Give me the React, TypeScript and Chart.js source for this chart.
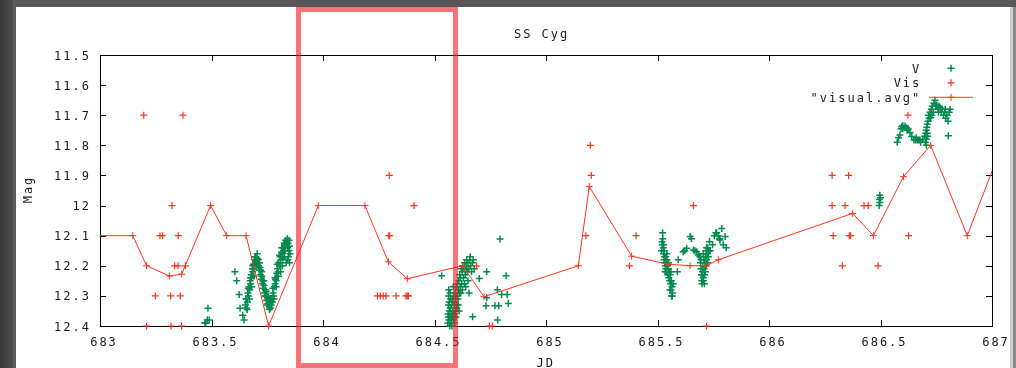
import { useEffect, useRef } from 'react';
import { Chart, registerables } from 'chart.js';

Chart.register(...registerables);

// ---- Light curve of SS Cyg ----
const chartTitle = 'SS Cyg';
const xTitle = 'JD';
const yTitle = 'Mag';
const seriesNames = ['V', 'Vis', '"visual.avg"'];

const xTicks = [683, 683.5, 684, 684.5, 685, 685.5, 686, 686.5, 687];
const yTicks = [11.5, 11.6, 11.7, 11.8, 11.9, 12, 12.1, 12.2, 12.3, 12.4];
const xRange = [683, 687];
const yRange = [11.5, 12.4];

// V-band photometry [JD, magnitude]
const vPoints: [number, number][] = [
  [683.471, 12.389], [683.474, 12.391], [683.481, 12.38], [683.484, 12.341], [683.49, 12.38],
  [683.605, 12.22], [683.613, 12.25], [683.624, 12.295], [683.628, 12.341], [683.64, 12.364], [683.646, 12.38],
  [683.652, 12.33], [683.656, 12.34], [683.658, 12.31], [683.661, 12.32], [683.663, 12.29], [683.666, 12.3],
  [683.668, 12.27], [683.671, 12.28], [683.673, 12.25], [683.675, 12.26], [683.678, 12.23], [683.68, 12.24],
  [683.683, 12.21], [683.685, 12.22], [683.688, 12.195], [683.69, 12.21], [683.693, 12.18], [683.696, 12.19],
  [683.699, 12.17], [683.702, 12.185], [683.705, 12.175], [683.708, 12.19],
  [683.655, 12.31], [683.66, 12.345], [683.665, 12.275], [683.67, 12.31], [683.675, 12.24], [683.68, 12.27],
  [683.685, 12.2], [683.69, 12.235], [683.695, 12.17], [683.7, 12.2], [683.705, 12.16], [683.71, 12.18],
  [683.711, 12.2], [683.714, 12.215], [683.717, 12.205], [683.72, 12.23], [683.723, 12.245], [683.726, 12.235],
  [683.729, 12.26], [683.732, 12.275], [683.735, 12.265], [683.738, 12.29], [683.741, 12.28], [683.744, 12.3],
  [683.747, 12.315], [683.75, 12.305], [683.753, 12.325], [683.756, 12.315], [683.759, 12.335], [683.762, 12.325],
  [683.765, 12.34], [683.768, 12.33],
  [683.715, 12.19], [683.72, 12.215], [683.725, 12.22], [683.73, 12.25], [683.735, 12.25], [683.74, 12.3],
  [683.745, 12.285], [683.75, 12.33], [683.755, 12.3], [683.76, 12.345], [683.765, 12.31],
  [683.771, 12.31], [683.773, 12.32], [683.776, 12.29], [683.779, 12.3], [683.782, 12.27], [683.785, 12.26],
  [683.787, 12.245], [683.79, 12.25], [683.793, 12.225], [683.796, 12.21], [683.799, 12.22], [683.802, 12.19],
  [683.805, 12.2], [683.808, 12.17], [683.811, 12.18], [683.814, 12.155], [683.817, 12.16], [683.82, 12.14],
  [683.823, 12.15], [683.826, 12.125], [683.829, 12.135], [683.832, 12.115], [683.835, 12.13], [683.838, 12.12],
  [683.841, 12.14], [683.844, 12.125], [683.847, 12.15], [683.85, 12.135], [683.852, 12.16], [683.826, 12.17],
  [683.835, 12.19], [683.842, 12.18], [683.818, 12.2], [683.81, 12.22],
  [683.775, 12.275], [683.78, 12.31], [683.785, 12.24], [683.79, 12.27], [683.795, 12.195], [683.8, 12.235],
  [683.805, 12.165], [683.81, 12.2], [683.815, 12.14], [683.82, 12.175], [683.83, 12.15], [683.84, 12.11],
  [683.845, 12.17], [683.85, 12.19], [683.848, 12.115],
  [684.532, 12.233], [684.794, 12.111], [684.821, 12.233], [684.734, 12.22], [684.701, 12.242],
  [684.782, 12.28], [684.801, 12.295], [684.826, 12.295], [684.734, 12.306], [684.731, 12.333],
  [684.771, 12.333], [684.788, 12.333], [684.831, 12.325], [684.671, 12.369], [684.783, 12.38],
  [684.56, 12.39], [684.561, 12.36], [684.562, 12.33], [684.563, 12.3], [684.564, 12.28], [684.565, 12.38],
  [684.566, 12.35], [684.568, 12.4], [684.569, 12.37], [684.571, 12.34], [684.572, 12.31], [684.574, 12.39],
  [684.575, 12.36], [684.577, 12.33], [684.578, 12.4], [684.58, 12.37], [684.582, 12.35], [684.583, 12.32],
  [684.585, 12.38], [684.586, 12.3], [684.588, 12.36], [684.59, 12.33], [684.592, 12.29], [684.594, 12.35],
  [684.595, 12.31], [684.597, 12.27], [684.599, 12.33], [684.601, 12.3], [684.603, 12.26], [684.605, 12.31],
  [684.607, 12.28], [684.609, 12.25], [684.611, 12.29], [684.613, 12.23], [684.615, 12.27], [684.617, 12.24],
  [684.62, 12.21], [684.622, 12.26], [684.624, 12.22], [684.627, 12.2], [684.63, 12.24], [684.632, 12.21],
  [684.635, 12.19], [684.638, 12.23], [684.641, 12.2], [684.644, 12.18], [684.647, 12.22], [684.65, 12.19],
  [684.654, 12.21], [684.658, 12.18], [684.662, 12.2], [684.666, 12.22], [684.67, 12.19], [684.674, 12.18],
  [684.678, 12.21], [684.65, 12.25], [684.64, 12.27], [684.655, 12.29],
  [684.562, 12.37], [684.566, 12.32], [684.57, 12.29], [684.576, 12.38], [684.58, 12.31], [684.584, 12.27],
  [684.59, 12.39], [684.596, 12.37], [684.6, 12.34], [684.606, 12.33], [684.61, 12.35], [684.618, 12.29],
  [684.625, 12.28], [684.634, 12.26], [684.645, 12.21], [684.66, 12.17],
  [685.518, 12.15], [685.521, 12.13], [685.523, 12.09], [685.524, 12.11], [685.526, 12.14], [685.527, 12.16],
  [685.529, 12.18], [685.53, 12.15], [685.532, 12.17], [685.533, 12.19], [685.535, 12.2], [685.537, 12.17],
  [685.538, 12.21], [685.54, 12.19], [685.541, 12.22], [685.543, 12.18], [685.545, 12.2], [685.547, 12.23],
  [685.549, 12.21], [685.551, 12.24], [685.553, 12.22], [685.555, 12.25], [685.557, 12.23], [685.558, 12.26],
  [685.56, 12.28], [685.562, 12.25], [685.563, 12.3], [685.565, 12.27], [685.567, 12.29], [685.566, 12.3],
  [685.52, 12.12], [685.528, 12.13], [685.534, 12.22], [685.542, 12.16], [685.55, 12.19], [685.556, 12.28],
  [685.56, 12.22], [685.57, 12.26],
  [685.593, 12.18], [685.589, 12.22],
  [685.615, 12.153], [685.622, 12.15], [685.631, 12.142], [685.646, 12.103], [685.652, 12.11], [685.661, 12.148],
  [685.668, 12.15], [685.676, 12.153], [685.683, 12.164],
  [685.69, 12.17], [685.693, 12.19], [685.695, 12.21], [685.697, 12.23], [685.699, 12.25], [685.7, 12.26],
  [685.702, 12.22], [685.703, 12.2], [685.705, 12.24], [685.706, 12.25], [685.708, 12.18], [685.709, 12.21],
  [685.711, 12.23], [685.713, 12.19], [685.715, 12.17], [685.716, 12.2], [685.718, 12.15], [685.72, 12.18],
  [685.722, 12.16], [685.725, 12.14], [685.728, 12.17], [685.73, 12.15], [685.733, 12.12], [685.736, 12.15],
  [685.695, 12.18], [685.7, 12.23], [685.705, 12.16], [685.71, 12.26], [685.714, 12.22], [685.72, 12.14],
  [685.725, 12.19],
  [685.747, 12.13], [685.755, 12.1], [685.762, 12.09], [685.765, 12.09], [685.772, 12.1], [685.778, 12.11],
  [685.78, 12.114], [685.788, 12.076], [685.795, 12.13], [685.803, 12.103], [685.808, 12.14],
  [686.497, 11.966], [686.5, 11.974], [686.495, 11.98], [686.497, 11.99], [686.494, 12.0],
  [686.575, 11.79], [686.581, 11.775], [686.587, 11.766], [686.592, 11.745], [686.595, 11.738], [686.6, 11.735],
  [686.61, 11.736], [686.617, 11.742], [686.625, 11.746], [686.632, 11.757], [686.64, 11.771], [686.65, 11.782],
  [686.658, 11.782], [686.665, 11.782], [686.672, 11.782], [686.677, 11.782], [686.69, 11.78], [686.698, 11.77],
  [686.701, 11.79], [686.703, 11.76], [686.705, 11.75], [686.706, 11.8], [686.708, 11.74], [686.71, 11.73],
  [686.712, 11.77], [686.713, 11.72], [686.715, 11.7], [686.718, 11.71], [686.722, 11.69], [686.725, 11.708],
  [686.728, 11.68], [686.732, 11.67], [686.736, 11.69], [686.74, 11.66], [686.744, 11.65], [686.748, 11.67],
  [686.752, 11.666], [686.758, 11.68], [686.762, 11.67], [686.767, 11.675], [686.772, 11.69], [686.777, 11.68],
  [686.783, 11.7], [686.788, 11.69], [686.793, 11.71], [686.798, 11.7], [686.803, 11.72], [686.808, 11.69],
  [686.812, 11.68], [686.804, 11.768],
  [686.6, 11.745], [686.62, 11.75], [686.66, 11.775], [686.68, 11.79], [686.705, 11.78], [686.71, 11.76],
  [686.73, 11.7], [686.76, 11.69], [686.79, 11.68],
];

// Visual estimates
const visPoints: [number, number][] = [
  [683.196, 11.7], [683.372, 11.7], [683.323, 12.0], [683.269, 12.1], [683.281, 12.1], [683.351, 12.1],
  [683.335, 12.2], [683.35, 12.2], [683.383, 12.2], [683.248, 12.3], [683.317, 12.3], [683.36, 12.3],
  [683.209, 12.4], [683.318, 12.4], [683.366, 12.4],
  [684.297, 11.9], [684.408, 12.0], [684.295, 12.1], [684.299, 12.1],
  [684.244, 12.3], [684.257, 12.3], [684.27, 12.3], [684.283, 12.3], [684.328, 12.3], [684.372, 12.3],
  [684.378, 12.3], [684.383, 12.3], [684.689, 12.2], [684.746, 12.4], [684.759, 12.4],
  [685.199, 11.8], [685.203, 11.9], [685.179, 12.1], [685.404, 12.1], [685.374, 12.2], [685.661, 12.0],
  [685.72, 12.4],
  [686.283, 11.9], [686.357, 11.9], [686.623, 11.7], [686.283, 12.0], [686.341, 12.0], [686.426, 12.0],
  [686.445, 12.0], [686.288, 12.1], [686.36, 12.1], [686.366, 12.1], [686.626, 12.1], [686.329, 12.2],
  [686.489, 12.2],
];

// Binned average of the visual estimates
const avgPoints: [number, number][] = [
  [682.9, 12.1], [683.147, 12.1], [683.209, 12.2], [683.311, 12.234], [683.366, 12.228], [683.496, 12.0],
  [683.568, 12.1], [683.655, 12.1], [683.756, 12.4], [683.979, 12.0], [684.188, 12.0], [684.293, 12.187],
  [684.378, 12.243], [684.626, 12.2], [684.722, 12.303], [685.145, 12.2], [685.194, 11.937], [685.384, 12.168],
  [685.548, 12.195], [685.646, 12.2], [685.72, 12.2], [685.773, 12.18], [686.375, 12.026], [686.468, 12.1],
  [686.603, 11.904], [686.725, 11.8], [686.889, 12.1], [687.05, 11.79],
];

const GREEN = '#008a4e';
const RED = '#ff3322';
const TEXT = '#1a1a1a';
const FONT = '12px "DejaVu Sans Mono"';

function crossAt(ctx: CanvasRenderingContext2D, x: number, y: number, r: number) {
  ctx.moveTo(x - r, y);
  ctx.lineTo(x + r, y);
  ctx.moveTo(x, y - r);
  ctx.lineTo(x, y + r);
}

const gnuplotFrame = {
  id: 'gnuplotFrame',
  beforeDatasetsDraw(chart: any) {
    const { ctx, chartArea: a, scales } = chart;
    ctx.save();
    ctx.strokeStyle = '#000';
    ctx.lineWidth = 1;
    ctx.strokeRect(a.left + 0.5, a.top + 0.5, a.right - a.left, a.bottom - a.top);
    ctx.beginPath();
    for (const v of xTicks) {
      const x = Math.round(scales.x.getPixelForValue(v)) + 0.5;
      ctx.moveTo(x, a.bottom);
      ctx.lineTo(x, a.bottom - 6);
      ctx.moveTo(x, a.top);
      ctx.lineTo(x, a.top + 6);
    }
    for (const v of yTicks) {
      const y = Math.round(scales.y.getPixelForValue(v)) + 0.5;
      ctx.moveTo(a.left, y);
      ctx.lineTo(a.left + 6, y);
      ctx.moveTo(a.right, y);
      ctx.lineTo(a.right - 6, y);
    }
    ctx.stroke();
    ctx.restore();
  },
  afterDatasetsDraw(chart: any) {
    const { ctx, chartArea: a, scales } = chart;
    ctx.save();
    ctx.font = FONT;
    ctx.letterSpacing = '2px';
    ctx.fillStyle = TEXT;
    ctx.textBaseline = 'alphabetic';

    // tick labels
    ctx.textAlign = 'center';
    for (const v of xTicks) {
      ctx.fillText(String(v), scales.x.getPixelForValue(v) + 4, a.bottom + 20);
    }
    ctx.textAlign = 'right';
    for (const v of yTicks) {
      ctx.fillText(String(v), a.left - 9, scales.y.getPixelForValue(v) + 4.5);
    }

    // titles
    ctx.textAlign = 'center';
    ctx.fillText(chartTitle, 525.6, 30.7);
    ctx.fillText(xTitle, 529.7, 359.7);
    ctx.save();
    ctx.translate(16, (a.top + a.bottom) / 2);
    ctx.rotate(-Math.PI / 2);
    ctx.fillText(yTitle, 1, 0);
    ctx.restore();

    // key
    const keyRight = a.right - 70.7;
    const keySample = a.right - 41;
    const rows = [61.3, 75.8, 90.3];
    ctx.textAlign = 'right';
    seriesNames.forEach((name, i) => {
      ctx.fillText(name, keyRight, rows[i] + 4.4);
    });
    ctx.lineWidth = 1.5;
    ctx.strokeStyle = GREEN;
    ctx.beginPath();
    crossAt(ctx, keySample, rows[0], 3.5);
    ctx.stroke();
    ctx.lineWidth = 1.2;
    ctx.strokeStyle = RED;
    ctx.beginPath();
    crossAt(ctx, keySample, rows[1], 3.5);
    ctx.stroke();
    ctx.lineWidth = 1;
    ctx.beginPath();
    ctx.moveTo(keySample - 22, rows[2]);
    ctx.lineTo(keySample + 22, rows[2]);
    crossAt(ctx, keySample, rows[2], 3.5);
    ctx.stroke();
    ctx.restore();
  },
};

const toXY = (pts: [number, number][]) => pts.map(([x, y]) => ({ x, y }));

export default function App() {
  const canvasRef = useRef<HTMLCanvasElement>(null);

  useEffect(() => {
    const chart = new Chart(canvasRef.current!, {
      type: 'scatter',
      data: {
        datasets: [
          {
            label: seriesNames[0],
            data: toXY(vPoints),
            showLine: false,
            pointStyle: 'cross',
            pointRadius: 3.5,
            pointBorderWidth: 1.5,
            pointBorderColor: GREEN,
            borderColor: GREEN,
            backgroundColor: GREEN,
            order: 3,
            clip: 6,
          },
          {
            label: seriesNames[1],
            data: toXY(visPoints),
            showLine: false,
            pointStyle: 'cross',
            pointRadius: 3.5,
            pointBorderWidth: 1.2,
            pointBorderColor: RED,
            borderColor: RED,
            backgroundColor: RED,
            order: 2,
            clip: 6,
          },
          {
            type: 'line',
            label: seriesNames[2],
            data: toXY(avgPoints),
            showLine: true,
            fill: false,
            tension: 0,
            borderColor: RED,
            borderWidth: 1,
            pointStyle: 'cross',
            pointRadius: 3.5,
            pointBorderWidth: 1,
            pointBorderColor: RED,
            backgroundColor: RED,
            order: 1,
            clip: { left: 0, top: 6, right: 0, bottom: 6 },
          } as any,
        ],
      },
      options: {
        animation: false,
        responsive: false,
        devicePixelRatio: 1,
        events: [],
        layout: { padding: { left: 84, top: 48, right: 18, bottom: 42 } },
        plugins: {
          legend: { display: false },
          title: { display: false },
          tooltip: { enabled: false },
        },
        scales: {
          x: { type: 'linear', min: xRange[0], max: xRange[1], display: false },
          y: { type: 'linear', min: yRange[0], max: yRange[1], reverse: true, display: false },
        },
      },
      plugins: [gnuplotFrame],
    });
    return () => chart.destroy();
  }, []);

  return (
    <div
      style={{
        position: 'absolute',
        left: 0,
        top: 0,
        width: 1016,
        height: 368,
        overflow: 'hidden',
        background: '#575757',
      }}
    >
      <div
        style={{
          position: 'absolute',
          left: 0,
          top: 0,
          width: 16,
          height: 368,
          background: 'linear-gradient(to right, #363636 0px, #4b4b4b 12px, #5e5e5e 14px, #5a5a5a 16px)',
        }}
      />
      <div style={{ position: 'absolute', left: 1010, top: 7, width: 3, height: 361, background: '#cfcfcf' }} />
      <div style={{ position: 'absolute', left: 1013, top: 7, width: 3, height: 361, background: '#8c8c8c' }} />
      <div style={{ position: 'absolute', left: 16, top: 7, width: 994, height: 361, background: '#ffffff' }}>
        <canvas ref={canvasRef} width={994} height={361} style={{ display: 'block' }} />
      </div>
      <div
        style={{
          position: 'absolute',
          left: 296,
          top: 7,
          width: 162,
          height: 361,
          boxSizing: 'border-box',
          border: '5px solid rgba(248, 20, 35, 0.6)',
        }}
      />
    </div>
  );
}
